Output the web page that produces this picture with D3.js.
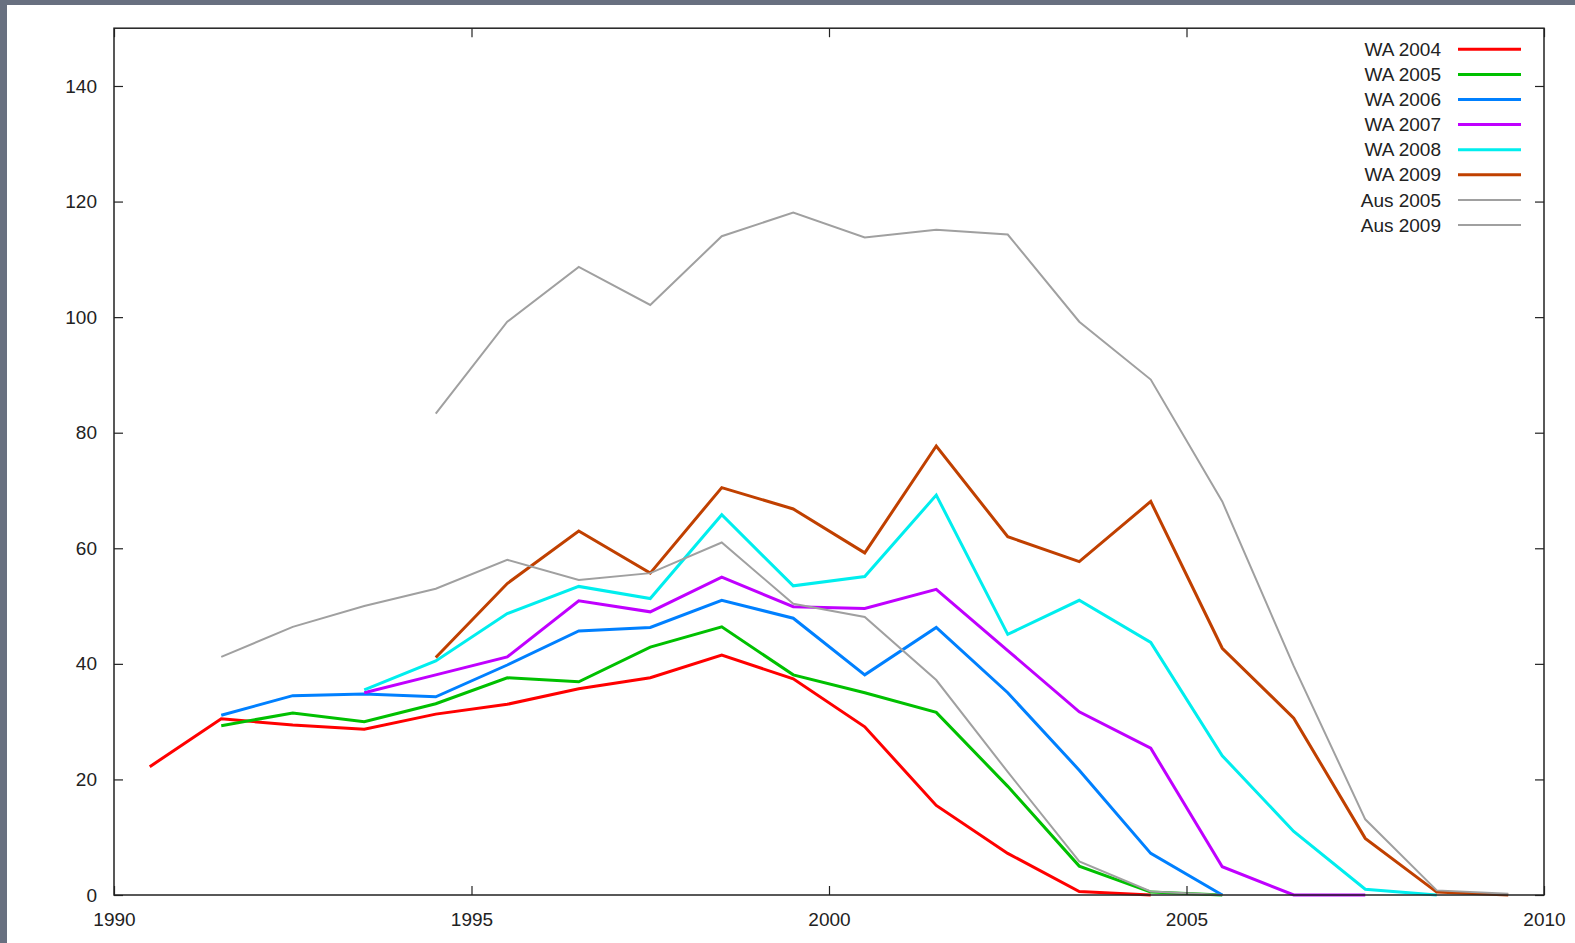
<!DOCTYPE html>
<html>
<head>
<meta charset="utf-8">
<script src="https://cdn.jsdelivr.net/npm/d3@7"></script>
<style>
  html, body { margin: 0; padding: 0; background: #ffffff; }
  svg { display: block; }
  text { font-family: "Liberation Sans", Arial, sans-serif; fill: #222; }
</style>
</head>
<body>
<svg id="chart" width="1575" height="943"></svg>
<script>
// ---- data ----
const years = [1990.5, 1991.5, 1992.5, 1993.5, 1994.5, 1995.5, 1996.5, 1997.5, 1998.5, 1999.5,
               2000.5, 2001.5, 2002.5, 2003.5, 2004.5, 2005.5, 2006.5, 2007.5, 2008.5, 2009.5];

const wa2004 = [22.2, 30.5, 29.4, 28.7, 31.3, 33.0, 35.7, 37.6, 41.5, 37.4, 29.1, 15.5, 7.2, 0.6, 0, null, null, null, null, null];
const wa2005 = [null, 29.3, 31.5, 30.0, 33.1, 37.6, 36.9, 42.9, 46.4, 38.1, 35.0, 31.6, 18.8, 5.0, 0.5, 0, null, null, null, null];
const wa2006 = [null, 31.1, 34.5, 34.8, 34.3, 39.8, 45.7, 46.3, 51.0, 47.9, 38.1, 46.3, 35.0, 21.6, 7.2, 0, null, null, null, null];
const wa2007 = [null, null, null, 35.0, 38.1, 41.2, 50.9, 49.0, 55.0, 49.9, 49.6, 52.9, 42.3, 31.7, 25.4, 4.9, 0, 0, null, null];
const wa2008 = [null, null, null, 35.5, 40.5, 48.7, 53.4, 51.3, 65.8, 53.5, 55.1, 69.2, 45.1, 51.0, 43.7, 24.1, 11.0, 1.0, 0, null];
const wa2009 = [null, null, null, null, 41.1, 53.9, 63.0, 55.7, 70.5, 66.8, 59.2, 77.7, 62.0, 57.7, 68.1, 42.7, 30.6, 9.8, 0.5, 0];
const aus2005 = [null, 41.2, 46.4, 50.0, 53.0, 58.0, 54.5, 55.7, 61.0, 50.4, 48.1, 37.2, 21.3, 5.8, 0.6, 0, null, null, null, null];
const aus2009 = [null, null, null, null, 83.3, 99.2, 108.7, 102.1, 114.0, 118.1, 113.8, 115.1, 114.3, 99.2, 89.2, 68.1, 39.6, 13.1, 0.8, 0.2];

const seriesNames = ["WA 2004", "WA 2005", "WA 2006", "WA 2007", "WA 2008", "WA 2009", "Aus 2005", "Aus 2009"];
const seriesValues = [wa2004, wa2005, wa2006, wa2007, wa2008, wa2009, aus2005, aus2009];
const seriesColors = ["#ff0000", "#00c000", "#0080ff", "#c000ff", "#00eeee", "#c04000", "#a0a0a0", "#a0a0a0"];
const seriesWidths = [3, 3, 3, 3, 3, 3, 2, 2];

const xTicks = [1990, 1995, 2000, 2005, 2010];
const yTicks = [0, 20, 40, 60, 80, 100, 120, 140];

// ---- layout ----
const svg = d3.select("#chart");
const L = 114, R = 1544, T = 28.2, B = 895;

const x = d3.scaleLinear().domain([1990, 2010]).range([L, R]);
const y = d3.scaleLinear().domain([0, 150]).range([B, T]);

// gray frame edges
svg.append("rect").attr("x", 0).attr("y", 0).attr("width", 1575).attr("height", 5).attr("fill", "#687080");
svg.append("rect").attr("x", 0).attr("y", 0).attr("width", 7).attr("height", 943).attr("fill", "#687080");

// lines
const line = d3.line()
  .defined(d => d[1] !== null)
  .x(d => x(d[0]))
  .y(d => y(d[1]));

seriesValues.forEach((vals, i) => {
  const pts = years.map((yr, j) => [yr, vals[j]]);
  svg.append("path")
    .datum(pts)
    .attr("fill", "none")
    .attr("stroke", seriesColors[i])
    .attr("stroke-width", seriesWidths[i])
    .attr("d", line);
});

// axes
const axisStyle = g => {
  g.select(".domain").remove();
  g.selectAll(".tick line").attr("stroke", "#222").attr("stroke-width", 1.2);
  g.selectAll(".tick text").attr("fill", "#222").style("font-size", "19px")
    .style("font-family", "'Liberation Sans', Arial, sans-serif");
};

svg.append("g").attr("transform", `translate(${L},0)`)
  .call(d3.axisLeft(y).tickValues(yTicks).tickSize(-9).tickPadding(17))
  .call(axisStyle);

svg.append("g").attr("transform", `translate(${R},0)`)
  .call(d3.axisRight(y).tickValues(yTicks).tickSize(-9).tickFormat(""))
  .call(axisStyle);

svg.append("g").attr("transform", `translate(0,${B})`)
  .call(d3.axisBottom(x).tickValues(xTicks).tickSize(-9).tickPadding(17.5).tickFormat(d3.format("d")))
  .call(axisStyle);

svg.append("g").attr("transform", `translate(0,${T})`)
  .call(d3.axisTop(x).tickValues(xTicks).tickSize(-9).tickFormat(""))
  .call(axisStyle);

// border
svg.append("rect")
  .attr("x", L).attr("y", T)
  .attr("width", R - L).attr("height", B - T)
  .attr("fill", "none").attr("stroke", "#222").attr("stroke-width", 1.5);

// legend
const legend = svg.append("g");
seriesNames.forEach((name, i) => {
  const ly = 49.3 + i * 25.1;
  legend.append("text")
    .attr("x", 1441).attr("y", ly)
    .attr("dy", "0.35em")
    .attr("text-anchor", "end")
    .style("font-size", "19px")
    .text(name);
  legend.append("line")
    .attr("x1", 1458).attr("x2", 1521)
    .attr("y1", ly).attr("y2", ly)
    .attr("stroke", seriesColors[i])
    .attr("stroke-width", seriesWidths[i]);
});
</script>
</body>
</html>
